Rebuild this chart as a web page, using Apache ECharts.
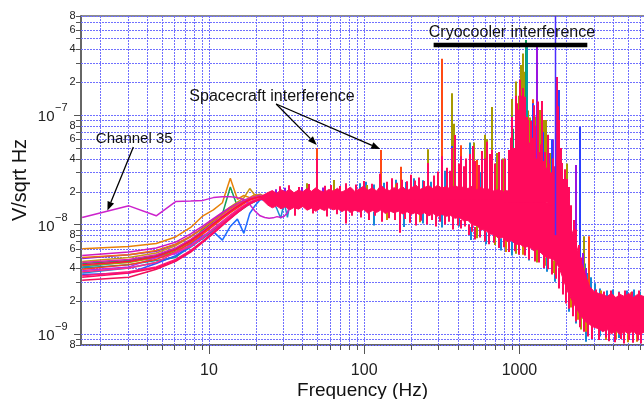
<!DOCTYPE html>
<html>
<head>
<meta charset="utf-8">
<script src="https://cdn.jsdelivr.net/npm/echarts@6/dist/echarts.min.js"></script>
<style>
  html, body { margin: 0; padding: 0; background: #fff; }
  #chart { width: 644px; height: 399px; }
</style>
</head>
<body>
<div id="chart"></div>
<script>
// ---- axis extents (frequency in Hz, noise density in nV/sqrt(Hz)) ----
const X_MIN = 1.5, X_MAX = 6340;
const Y_MIN = 0.7934, Y_MAX = 801.7;

// ---- grid / tick values ----
const xGridValues = [2,3,4,5,6,7,8,9,10,20,30,40,50,60,70,80,90,100,200,300,400,500,600,700,800,900,1000,2000,3000,4000,5000,6000];
const xTickLabels = [10, 100, 1000];
const yGridValues = [0.8,0.9,1,2,3,4,5,6,7,8,9,10,20,30,40,50,60,70,80,90,100,200,300,400,500,600,700,800];
const yMinorLabelMantissas = [2, 4, 6, 8];

// ---- low-frequency bins of the individual channel spectra ----
const fanFreq = [1.526, 3.052, 4.578, 6.104, 7.629, 9.155, 10.68, 12.21, 13.73, 15.26, 16.79, 18.31, 19.84, 21.36, 22.89, 24.41, 25.94, 27.47, 28.99, 30.52, 32.04, 33.57];

const chOrange   = [6.0, 6.3, 6.7, 7.7, 9.4, 12.0, 13.6, 15.8, 26.5, 17.0, 18.4, 17.6, 18.8, 17.9, 18.3, 17.1, 18.6, 17.7, 18.2, 17.3, 18.5, 17.9];
const chBlue     = [4.1, 4.6, 5.0, 5.6, 6.8, 7.9, 8.6, 7.2, 9.6, 11.2, 8.3, 12.6, 14.9, 16.8, 17.2, 16.4, 17.5, 16.9, 17.8, 16.6, 17.4, 17.9];
const chAzure    = [3.6, 4.0, 4.5, 5.1, 6.2, 7.5, 8.9, 10.3, 11.8, 13.2, 14.6, 15.6, 16.4, 17.1, 16.8, 17.5, 16.2, 13.8, 11.4, 15.9, 11.6, 16.8];
const chGreen    = [4.4, 4.7, 5.2, 6.0, 7.2, 8.9, 10.6, 12.4, 22.0, 14.6, 16.2, 17.0, 17.6, 18.0, 17.6, 18.3, 17.4, 18.0, 17.2, 18.4, 17.7, 18.1];
const chTeal     = [4.0, 4.3, 4.7, 5.0, 6.6, 7.5, 8.8, 10.1, 11.5, 12.9, 14.2, 15.4, 16.3, 17.0, 17.5, 17.2, 17.9, 17.6, 18.1, 17.4, 18.0, 17.7];
const chGold     = [4.6, 5.0, 5.5, 6.4, 7.7, 9.3, 11.0, 12.8, 14.5, 16.0, 17.5, 21.3, 18.4, 18.9, 18.0, 18.6, 17.8, 18.3, 17.6, 18.5, 18.0, 18.2];
const chOlive    = [4.2, 4.5, 5.0, 5.8, 7.0, 8.5, 10.0, 11.6, 13.1, 14.6, 15.9, 17.0, 17.7, 18.1, 17.6, 18.2, 17.5, 18.0, 17.4, 18.1, 17.7, 18.0];
const chPurple   = [4.9, 5.3, 5.7, 6.6, 7.8, 9.3, 10.9, 12.5, 14.0, 15.3, 16.4, 17.3, 17.8, 18.2, 17.9, 18.4, 17.6, 18.1, 17.5, 18.3, 17.8, 18.0];
const chBlue2    = [3.5, 3.6, 4.4, 5.2, 6.3, 7.6, 9.0, 10.4, 11.9, 13.3, 14.6, 15.7, 16.5, 17.0, 16.7, 17.3, 16.8, 17.4, 16.9, 17.5, 17.1, 17.4];
const chViolet   = [3.8, 4.1, 5.0, 5.4, 6.5, 7.8, 9.2, 10.7, 12.2, 13.6, 14.9, 16.0, 16.8, 17.3, 17.0, 17.6, 17.1, 17.6, 17.0, 17.7, 17.3, 17.6];
const chRed      = [3.9, 4.3, 4.8, 5.6, 6.8, 8.2, 9.7, 11.3, 12.8, 14.2, 15.5, 16.6, 17.3, 17.8, 17.4, 18.0, 17.3, 17.8, 17.2, 17.9, 17.5, 17.8];
const chMagenta  = [5.2, 5.6, 6.1, 6.9, 8.2, 9.7, 11.3, 12.9, 14.3, 15.6, 16.7, 17.5, 18.0, 18.5, 18.1, 17.7, 18.6, 17.9, 18.2, 17.6, 18.4, 17.9];
const chOrange2  = [5.0, 5.3, 5.8, 6.6, 7.8, 9.2, 10.8, 12.3, 13.8, 15.1, 16.2, 17.1, 17.7, 18.1, 17.7, 18.2, 17.6, 18.1, 17.5, 18.2, 17.8, 18.0];
const chMagenta2 = [4.5, 4.8, 5.3, 6.1, 7.3, 8.7, 10.3, 11.9, 13.4, 14.8, 16.0, 17.0, 17.6, 17.9, 17.5, 18.0, 17.4, 17.9, 17.3, 18.0, 17.6, 17.8];
const ch35       = [11.6, 14.8, 12.0, 16.2, 16.4, 16.6, 17.6, 17.9, 17.9, 17.6, 16.9, 15.2, 13.2, 12.0, 11.6, 11.4, 11.5, 11.8, 11.6, 11.9, 12.8, 15.8];
const chPink2    = [3.7, 4.0, 4.5, 5.6, 6.3, 7.6, 9.1, 10.6, 12.1, 13.5, 14.8, 15.9, 16.7, 17.2, 17.6, 17.1, 17.8, 17.4, 17.9, 17.3, 17.8, 17.5];
const chPink     = [3.4, 3.7, 4.1, 4.8, 5.8, 7.1, 8.6, 10.2, 11.8, 13.3, 14.7, 15.8, 16.6, 17.2, 17.5, 17.0, 17.7, 17.3, 17.8, 17.1, 17.6, 17.4];
const chRedPink  = [4.3, 4.6, 5.1, 5.9, 7.1, 8.5, 10.1, 11.7, 13.2, 14.6, 15.9, 16.9, 17.5, 17.9, 17.4, 18.0, 17.4, 17.9, 17.2, 18.0, 17.5, 17.8];
const chCrimson  = [3.1, 3.3, 3.9, 4.6, 5.6, 6.9, 8.3, 9.8, 11.3, 12.8, 14.2, 15.4, 16.3, 16.9, 17.3, 16.8, 17.5, 17.1, 17.7, 17.0, 17.5, 17.2];
const chHotPink  = [3.3, 3.6, 4.0, 4.7, 5.7, 7.0, 8.4, 9.9, 11.4, 12.9, 14.3, 15.5, 16.4, 17.0, 17.4, 16.9, 17.6, 17.2, 17.8, 17.1, 17.7, 17.3];

// ---- the merged noise band of all channels above ~20 Hz ----
const bandFreq = [22.0, 24.0, 25.6, 27.3, 29.1, 31.1, 33.1, 35.3, 37.7, 40.2, 42.9, 45.7, 48.8,
  52.0, 55.5, 59.2, 63.1, 67.3, 71.8, 76.6, 81.7, 87.1, 92.9, 99.1, 105.7, 112.8, 120.3, 128.3, 136.8, 145.9,
  155.7, 166, 177, 189, 201, 215, 229, 244, 261, 278, 297, 316, 337, 360, 384, 410, 437,
  466, 497, 530, 565, 603, 643, 686, 732, 780, 832, 888, 947, 1010,
  1077, 1149, 1226, 1307, 1394, 1487, 1586, 1692, 1805, 1925, 2053, 2190, 2336, 2491, 2657, 2834, 3023, 3224,
  3439, 3668, 3912, 4173, 4451, 4747, 5063, 5400, 5760, 6340];
const bandHigh = [18.3, 19.6, 20.4, 19.2, 20.8, 19.8, 21.0, 19.5, 20.6, 19.9, 21.3, 20.1, 21.6,
  20.3, 19.7, 20.9, 20.2, 21.4, 19.8, 20.7, 21.9, 20.0, 21.1, 22.4, 20.5, 21.6, 20.2, 22.8, 21.0, 20.4,
  21.7, 20.8, 22.1, 20.3, 21.5, 23.0, 20.9, 21.8, 22.6, 21.2, 22.9, 21.4, 22.2, 21.0, 22.7, 21.6, 22.0,
  21.3, 22.4, 20.8, 21.9, 20.6, 21.2, 20.1, 20.9, 19.8, 20.4, 19.2, 19.9, 18.6,
  18.6, 17.9, 17.4, 16.8, 16.7, 16.0, 15.8, 15.4, 14.0, 12.6, 10.6, 8.6, 6.3, 4.6, 3.5, 2.7, 2.45, 2.35,
  2.3, 2.2, 2.35, 2.15, 2.3, 2.2, 2.35, 2.15, 2.3, 2.2];
const bandLow = [16.9, 15.0, 14.2, 14.8, 13.9, 14.5, 13.6, 14.3, 13.8, 14.6, 13.5, 14.1, 13.2,
  14.0, 13.4, 14.2, 13.6, 14.0, 13.1, 13.8, 12.9, 13.5, 13.0, 13.7, 12.7, 13.4, 12.9, 13.6, 12.6, 13.3,
  12.8, 13.2, 12.5, 13.1, 12.4, 12.9, 12.2, 12.8, 12.0, 12.6, 11.9, 12.4, 11.9, 12.1, 11.4, 11.6, 10.8,
  10.9, 9.9, 9.8, 9.0, 8.9, 8.2, 8.1, 7.5, 7.6, 7.0, 7.1, 6.6, 6.6,
  6.2, 6.3, 5.8, 5.9, 5.4, 5.0, 4.9, 4.7, 4.0, 3.1, 2.4, 2.0, 1.7, 1.45, 1.3, 1.22, 1.15, 1.12,
  1.05, 1.1, 1.0, 1.08, 0.98, 1.06, 1.0, 1.07, 0.97, 1.04];

// ---- narrow lines and excursions: [frequency, lower value, upper value] ----
const linesAzure = [[88,17,22.5],[94,17,23.8],[103,17,24.6],[116,17,23.2],[135,17,24.0],[160,17,25.6],[186,17,24.4],[208,17,26.4],
  [238,17,25.4],[268,17,24.6],[298,17,27.8],[332,17,31.0],[478,17,56.0],[560,17,30.0],[650,17,27.0],[1190,16,30.0],
  [2650,2.5,4.4],[2760,2.3,3.6],[2900,2.2,3.3],[3050,2.0,2.9],[3300,2.0,2.6],[3650,2.0,2.5],[4000,2.0,2.55],[4350,2.0,2.45],
  [4900,2.0,2.5],[5500,2.0,2.55],[6000,2.0,2.45],
  [115,9.8,13],[180,9.5,13],[240,10.2,13],[318,9.4,12.5],[410,9.6,12],[490,7.2,9.5],[610,6.6,8.5],[760,5.8,7.5],[900,5.2,7],
  [1150,4.7,6.5],[1500,3.7,5],[1700,3.0,4.5],[2100,1.6,2.5],[2300,1.25,2.0],[2670,0.85,1.3],[3300,0.95,1.2],[4400,0.92,1.2]];
const linesOlive = [[42.8,17,23.8],[64,17,25.5],[105,17,23.0],[160,17,23.5],[258,17,48.6],[368,17,158],[380,17,83],[507,17,56],
  [600,17,66],[619,17,60],[667,17,118],[718,17,45],[780,17,40],[897,16,140],[955,16,202],[990,16,150],[1030,16,286],
  [1057,16,365],[1077,16,248],[1093,16,220],[1140,16,110],[1167,16,95],[1230,16,86],[1268,16,97],[1300,16,110],[1352,16,111],
  [1440,16,90],[1493,16,90],[1600,16,45],[1840,12,45],[2030,9,36],[2620,2,7.8],
  [530,7.5,10],[700,6.5,8.5],[950,5.4,7],[1300,4.5,6],[1700,3.5,5],[2200,1.55,2.4],[2500,1.1,1.6]];
const linesOrange = [[50,16,49.6],[128,16,48],[173,16,33.7],[317,16,327],[421,16,53],[533,16,39],[1223,16,139],[1930,11,20],[2800,2,7.8]];
const linesGold = [[820,5.6,7.5],[1050,5.3,6.5],[1260,4.9,6],[1450,4.2,5],[1650,3.6,4.7],[1900,2.6,3.1],[2150,1.75,2.2],
  [2400,1.35,1.7],[2700,1.05,1.3],[3600,0.88,1.1],[4200,0.9,1.1],[5000,0.84,1.1],[5700,0.85,1.1],[6100,0.83,1.1],
  [3350,2,2.5],[5200,2,2.4],[140,11,14],[230,10.5,13]];
const linesGreen = [[897,16,97],[910,16,75],[1000,16,60],[1110,16,484]];
const linesTeal = [[1116,16,420]];
const linesPurple = [[27,17,21.0],[31,17,21.6],[40,17,22.0],[54,17,21.8],[1200,16,52],[1300,16,450],[1540,16,45],[1650,14,59],
  [2330,6,35],[2460,5,57],[2550,3,5.5],[2700,2.5,4.0]];
const linesBlue = [[368,17,52],[1219,16,128],[1420,16,70],[1620,15,60],[1794,14,169],[2450,5,78]];
const linesPink = [[28.5,17,22.4],[33,17,22.8],[38,17,22.0],[44,17,23.4],[50,16,40],[56,17,22.6],[61,17,23.0],[70,17,22.5],
  [76,17,23.8],[88,17,23.2],[100,17,25.0],[112,17,23.6],[126,17,29.0],[140,17,24.6],[150,17,26.5],[163,17,24.0],[176,17,25.6],
  [190,17,24.8],[200,17,28.5],[214,17,25.2],[226,17,26.8],[244,17,25.0],[258,17,36.5],[280,17,28.0],[300,17,30.5],[317,17,42.0],
  [340,17,33.0],[355,17,31.0],[368,17,50.0],[387,17,65.6],[405,17,36.0],[421,17,42.0],[440,17,34.0],[455,17,40.0],[478,17,44.0],
  [500,17,52.0],[520,17,38.0],[545,17,35.0],[575,17,47.0],[600,17,40.0],[619,17,57.0],[645,17,44.0],[667,17,48.0],[700,17,36.0],
  [735,17,46.0],[770,17,39.0],[810,16,40.0],[850,16,48.0],[885,16,62.0],[897,16,96.0],[925,16,50.0],[943,16,150.0],
  [967,16,128.0],[992,16,112.0],[1003,16,210.0],[1030,16,150.0],[1045,16,70.0],[1057,16,176.0],[1080,16,142.0],[1093,16,147.0],
  [1120,16,96.0],[1132,16,90.0],[1160,16,56.0],[1190,16,88.0],[1219,16,62.0],[1237,16,123.0],[1268,16,80.0],[1290,16,40.0],
  [1312,16,133.0],[1340,16,46.0],[1365,16,36.0],[1385,16,54.0],[1400,16,134.0],[1440,16,38.0],[1470,16,46.0],[1500,16,33.0],
  [1523,16,66.0],[1560,15,36.0],[1600,15,30.0],[1640,15,40.0],[1670,14,34.0],[1720,14,80.0],[1751,14,222.0],[1775,14,120.0],
  [1800,13,90.0],[1850,13,50.0],[1885,12,36.4],[1920,11,26.0],[1960,10,32.0],[2010,9,26.0],[2080,8,22.0],
  [2160,6,15.0],[2250,5,11.0],[2330,4,9.0],[2420,3,6.5],[2500,2.5,5.0],
  [3100,2,2.55],[3500,2,2.45],[3900,2,2.5],[4400,2,2.4],[4800,2,2.5],[5300,2,2.45],[5900,2,2.5],
  [36,12.0,15],[47,12.6,15],[58,11.8,15],[67,12.4,15],[76,10.2,14],[84,12.0,14],[95,11.6,14],[108,11.0,14],[118,12.0,14],
  [131,10.6,14],[145,11.4,14],[158,11.0,14],[170,8.4,13],[183,11.2,13],[196,10.4,13],[215,9.8,13],[232,10.8,13],[255,10.0,13],
  [272,11.0,13],[290,9.6,12.5],[310,10.6,12.5],[330,10.0,12],[350,10.6,12],[375,9.0,12],[400,9.8,11.5],[420,9.2,11],
  [445,9.6,11],[470,8.0,10],[495,8.6,10],[520,7.3,9.5],[560,7.6,9.5],[600,7.0,9],[640,6.6,8.5],[690,6.8,8.5],[740,6.1,8],
  [800,6.2,7.5],[860,5.6,7.5],[930,5.7,7],[1000,5.3,7],[1080,5.2,6.5],[1160,4.8,6.5],[1250,4.6,6],[1340,4.5,6],[1430,4.0,5.5],
  [1530,3.9,5],[1620,3.5,5],[1720,3.2,4.5],[1800,2.6,4],[1900,2.3,3.3],[2000,1.9,3],[2100,1.7,2.5],[2200,1.45,2.2],
  [2320,1.3,1.8],[2450,1.15,1.6],[2600,1.05,1.5],[2780,0.95,1.3],[2950,0.9,1.3],[3250,0.88,1.2],[3600,0.93,1.2],
  [3750,0.86,1.2],[4100,0.84,1.2],[4500,0.9,1.2],[4700,0.82,1.2],[5100,0.88,1.2],[5400,0.83,1.2],[5800,0.87,1.2],[6100,0.82,1.2]];
const linesViolet = [[1690, 8, 1000]];

// ---- annotations ----
const noteTexts = ['Cryocooler interference', 'Spacecraft interference', 'Channel 35'];
const notePos = [[894.6, 561], [25.5, 146], [1.87, 60.4]];
const noteAlign = ['center', 'center', 'left'];
const arrowFrom = [[27.1, 126], [27.1, 126], [3.26, 51]];
const arrowTo = [[49.5, 53.2], [126.8, 48.9], [2.22, 13.4]];
const cryoSpan = [280, 2735];
const cryoLevel = 436;

// ---- styling ----
const FONT = 'Liberation Sans';
const PINK = '#ff0a5c';
const fanStyles = [
  [chOrange, '#e8820a'], [chBlue, '#1e6bff'], [chAzure, '#1a8fd0'], [chGreen, '#12a05a'], [chTeal, '#0a9f9f'],
  [chGold, '#c8951a'], [chOlive, '#a69c00'], [chPurple, '#8a1ee6'], [chBlue2, '#3050ff'], [chViolet, '#b42cf0'],
  [chRed, '#ff3a1a'], [chMagenta, '#d018c0'], [chOrange2, '#f07010'], [chMagenta2, '#e020b0'], [ch35, '#cc22cc'],
  [chPink2, '#ff2a8a'], [chPink, '#ff1a78'], [chRedPink, '#ff0a46'], [chCrimson, '#f0105a'], [chHotPink, '#ff0a64']
];

function decade(v) {
  const e = Math.floor(Math.log10(v) + 1e-9);
  return { e: e, m: Math.round(v / Math.pow(10, e)) };
}

// dotted grid, ticks, tick labels and top frame line
function yGridItem(params, api) {
  const v = api.value(1);
  const a = api.coord([X_MIN, v]), b = api.coord([X_MAX, v]);
  const y = Math.round(a[1]) + 0.5;
  const d = decade(v);
  const major = d.m === 1;
  const children = [
    { type: 'line', shape: { x1: a[0], y1: y, x2: b[0], y2: y }, style: { stroke: '#7070ff', lineWidth: 1, lineDash: [2, 1] } },
    { type: 'line', shape: { x1: a[0] - (major ? 7 : 5), y1: y, x2: a[0], y2: y }, style: { stroke: '#555', lineWidth: 1 } }
  ];
  if (major) {
    children.push({ type: 'text', x: 54.5, y: a[1] + 2, style: { text: '10', align: 'right', verticalAlign: 'middle', fontSize: 15, fontFamily: FONT, fill: '#222' } });
    children.push({ type: 'text', x: 55, y: a[1] - 7, style: { text: '\u2212' + (9 - d.e), align: 'left', verticalAlign: 'middle', fontSize: 11, fontFamily: FONT, fill: '#222' } });
  } else if (yMinorLabelMantissas.indexOf(d.m) >= 0) {
    children.push({ type: 'text', x: 75.5, y: a[1], style: { text: String(d.m), align: 'right', verticalAlign: 'middle', fontSize: 11, fontFamily: FONT, fill: '#222' } });
  }
  if (params.dataIndex === 0) {
    const t0 = api.coord([X_MIN, Y_MAX]), t1 = api.coord([X_MAX, Y_MAX]);
    children.push({ type: 'line', shape: { x1: t0[0], y1: t0[1], x2: t1[0], y2: t1[1] }, style: { stroke: '#666', lineWidth: 1.5 } });
  }
  return { type: 'group', children: children };
}

function xGridItem(params, api) {
  const f = api.value(0);
  const a = api.coord([f, Y_MIN]), b = api.coord([f, Y_MAX]);
  const x = Math.round(a[0]) + 0.5;
  const d = decade(f);
  const major = d.m === 1;
  const children = [
    { type: 'line', shape: { x1: x, y1: a[1], x2: x, y2: b[1] }, style: { stroke: '#7070ff', lineWidth: 1, lineDash: [2, 1] } },
    { type: 'line', shape: { x1: x, y1: a[1], x2: x, y2: a[1] + (major ? 9 : 5) }, style: { stroke: '#555', lineWidth: 1 } }
  ];
  if (xTickLabels.some(function (t) { return Math.abs(t - f) < 1e-6; })) {
    children.push({ type: 'text', x: a[0], y: a[1] + 26, style: { text: String(Math.round(f)), align: 'center', verticalAlign: 'middle', fontSize: 16, fontFamily: FONT, fill: '#222' } });
  }
  return { type: 'group', children: children };
}

// vertical strokes between two values at one frequency
function stickRenderer(color, width) {
  return function (params, api) {
    const f = api.value(0);
    const p0 = api.coord([f, api.value(1)]), p1 = api.coord([f, api.value(2)]);
    const x = Math.round(p0[0]) + (width % 2 ? 0.5 : 0);
    return { type: 'line', shape: { x1: x, y1: p0[1], x2: x, y2: p1[1] }, style: { stroke: color, lineWidth: width } };
  };
}

function bandItem(params, api) {
  if (params.dataIndex !== 0) return null;
  const pts = [];
  for (let i = 0; i < bandFreq.length; i++) pts.push(api.coord([bandFreq[i], bandHigh[i]]));
  for (let i = bandFreq.length - 1; i >= 0; i--) pts.push(api.coord([bandFreq[i], bandLow[i]]));
  return { type: 'polygon', shape: { points: pts }, style: { fill: PINK, stroke: PINK, lineWidth: 1 } };
}

function arrowShape(p, q) {
  const dx = q[0] - p[0], dy = q[1] - p[1];
  const L = Math.sqrt(dx * dx + dy * dy), ux = dx / L, uy = dy / L;
  const head = 9, half = 3.5;
  const bx = q[0] - ux * head, by = q[1] - uy * head;
  return [
    { type: 'line', shape: { x1: p[0], y1: p[1], x2: bx, y2: by }, style: { stroke: '#000', lineWidth: 1.3 } },
    { type: 'polygon', shape: { points: [[q[0], q[1]], [bx - uy * half, by + ux * half], [bx + uy * half, by - ux * half]] }, style: { fill: '#000' } }
  ];
}

function noteItem(params, api) {
  if (params.dataIndex !== 0) return null;
  let children = [];
  const b0 = api.coord([cryoSpan[0], cryoLevel]), b1 = api.coord([cryoSpan[1], cryoLevel]);
  children.push({ type: 'line', shape: { x1: b0[0], y1: b0[1], x2: b1[0], y2: b1[1] }, style: { stroke: '#000', lineWidth: 4.5 } });
  noteTexts.forEach(function (t, i) {
    const p = api.coord(notePos[i]);
    children.push({ type: 'text', x: p[0], y: p[1], style: { text: t, align: noteAlign[i], verticalAlign: 'middle', fontSize: i === 2 ? 15 : 16, fontFamily: FONT, fill: '#111' } });
  });
  arrowFrom.forEach(function (a, i) {
    children = children.concat(arrowShape(api.coord(a), api.coord(arrowTo[i])));
  });
  return { type: 'group', children: children };
}

const series = [];
series.push({ type: 'custom', renderItem: yGridItem, data: yGridValues.map(function (v) { return [X_MIN, v]; }), z: 1, silent: true, clip: false });
series.push({ type: 'custom', renderItem: xGridItem, data: xGridValues.map(function (f) { return [f, Y_MIN]; }), z: 1, silent: true, clip: false });
fanStyles.forEach(function (s) {
  series.push({ type: 'line', data: fanFreq.map(function (f, i) { return [f, s[0][i]]; }), symbol: 'none', silent: true, z: 2,
    lineStyle: { color: s[1], width: 1.5 }, itemStyle: { color: s[1] } });
});
[[linesAzure, '#1588d6'], [linesOlive, '#a69a00'], [linesOrange, '#ff4a14'], [linesGold, '#d08a00'], [linesGreen, '#10a060'],
 [linesTeal, '#00a0a0'], [linesPurple, '#9a14e0'], [linesBlue, '#2a40ff']].forEach(function (g) {
  series.push({ type: 'custom', renderItem: stickRenderer(g[1], 2), data: g[0], z: 3, silent: true, clip: true });
});
series.push({ type: 'custom', renderItem: bandItem, data: [[bandFreq[0], bandLow[0], bandHigh[0]]], z: 4, silent: true, clip: true });
series.push({ type: 'custom', renderItem: stickRenderer(PINK, 2), data: linesPink, z: 5, silent: true, clip: true });
series.push({ type: 'custom', renderItem: stickRenderer('#4a2cff', 1.5), data: linesViolet, z: 6, silent: true, clip: true });
series.push({ type: 'custom', renderItem: noteItem, data: [[X_MIN, Y_MIN]], z: 7, silent: true, clip: false });

const chart = echarts.init(document.getElementById('chart'), null, { renderer: 'canvas' });
chart.setOption({
  animation: false,
  backgroundColor: '#ffffff',
  textStyle: { fontFamily: FONT },
  grid: { left: 81, top: 16, right: 0, bottom: 54, containLabel: false },
  xAxis: {
    type: 'log', logBase: 10, min: X_MIN, max: X_MAX,
    axisLine: { show: true, onZero: false, lineStyle: { color: '#666', width: 2 } },
    axisTick: { show: false }, axisLabel: { show: false }, splitLine: { show: false }
  },
  yAxis: {
    type: 'log', logBase: 10, min: Y_MIN, max: Y_MAX,
    axisLine: { show: true, onZero: false, lineStyle: { color: '#666', width: 2 } },
    axisTick: { show: false }, axisLabel: { show: false }, splitLine: { show: false }
  },
  graphic: [
    { type: 'text', x: 362.5, y: 391, style: { text: 'Frequency (Hz)', align: 'center', verticalAlign: 'middle', fontSize: 19, fontFamily: FONT, fill: '#111' } },
    { type: 'text', x: 20.5, y: 180, rotation: Math.PI / 2, style: { text: 'V/sqrt Hz', align: 'center', verticalAlign: 'middle', fontSize: 20, fontFamily: FONT, fill: '#111' } }
  ],
  series: series
});
</script>
</body>
</html>
